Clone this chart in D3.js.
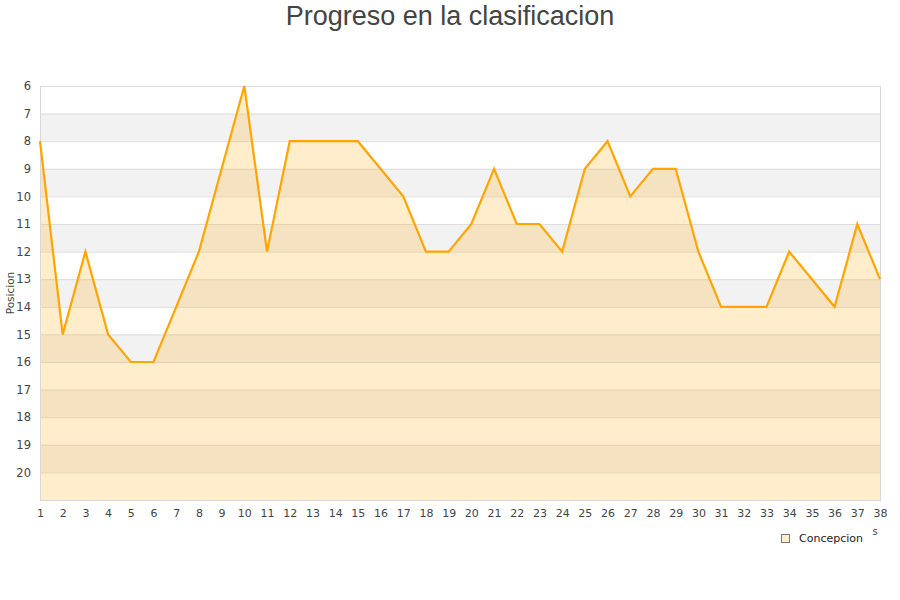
<!DOCTYPE html>
<html><head><meta charset="utf-8">
<script src="https://cdn.jsdelivr.net/npm/d3@7"></script>
<style>body{margin:0;background:#fff}svg{display:block}</style>
</head><body>
<svg id="c" width="900" height="600"></svg>
<script>
const jornadas = d3.range(1, 39);
const posiciones = [8,15,12,15,16,16,14,12,9,6,12,8,8,8,8,9,10,12,12,11,9,11,11,12,9,8,10,9,9,12,14,14,14,12,13,14,11,13];
const yTicks = [6,7,8,9,10,11,12,13,14,15,16,17,18,19,20];
const seriesName = "Concepcion";
const titleText = "Progreso en la clasificacion";
const yLabel = "Posicion";

const svg = d3.select("#c");
const L = 40, R = 880, T = 86, B = 500;
const x = d3.scaleLinear().domain([1, 38]).range([L, R]);
const y = d3.scaleLinear().domain([6, 21]).range([T, B]);

// bands
const bands = d3.range(6, 21);
svg.append("g").selectAll("rect").data(bands).join("rect")
  .attr("x", L).attr("width", R - L)
  .attr("y", d => y(d)).attr("height", d => y(d + 1) - y(d))
  .attr("fill", d => (d % 2 === 1 ? "#f2f2f2" : "#ffffff"));

// grid lines
svg.append("g").selectAll("line").data(yTicks).join("line")
  .attr("x1", L).attr("x2", R)
  .attr("y1", d => y(d) + 0.5).attr("y2", d => y(d) + 0.5)
  .attr("stroke", "#dddddd").attr("stroke-width", 1);

const data = jornadas.map((j, i) => ({ j, p: posiciones[i] }));

// area
svg.append("path").datum(data)
  .attr("d", d3.area().x(d => x(d.j)).y0(y(21)).y1(d => y(d.p)))
  .attr("fill", "rgba(255,165,0,0.2)");

// border
svg.append("line").attr("x1", L + 0.5).attr("x2", L + 0.5).attr("y1", T).attr("y2", B).attr("stroke", "#d8d8d8");
svg.append("line").attr("x1", R + 0.5).attr("x2", R + 0.5).attr("y1", T).attr("y2", B).attr("stroke", "#d8d8d8");
svg.append("line").attr("x1", L).attr("x2", R + 1).attr("y1", B + 0.5).attr("y2", B + 0.5).attr("stroke", "#d8d8d8");

// line
svg.append("path").datum(data)
  .attr("d", d3.line().x(d => x(d.j)).y(d => y(d.p)))
  .attr("fill", "none").attr("stroke", "#ffa500").attr("stroke-width", 2.2)
  .attr("stroke-linejoin", "miter");

// y axis labels
const yAxis = d3.axisLeft(y).tickValues(yTicks).tickSize(0).tickPadding(9);
const gy = svg.append("g").attr("transform", `translate(${L},0)`).call(yAxis);
gy.select(".domain").remove();
gy.selectAll("text").attr("font-family", "DejaVu Sans, sans-serif").attr("font-size", 11.5).attr("fill", "#444");

// x axis labels
const xAxis = d3.axisBottom(x).tickValues(jornadas).tickSize(0).tickPadding(9);
const gx = svg.append("g").attr("transform", `translate(0,${B})`).call(xAxis);
gx.select(".domain").remove();
gx.selectAll("text").attr("font-family", "DejaVu Sans, sans-serif").attr("font-size", 11).attr("fill", "#444");

// y label
svg.append("text").attr("transform", "translate(14,293) rotate(-90)")
  .attr("text-anchor", "middle").attr("font-family", "DejaVu Sans, sans-serif")
  .attr("font-size", 10.5).attr("fill", "#444").text(yLabel);

// clipped x label remnant
svg.append("text").attr("x", 875).attr("y", 535).attr("text-anchor", "middle")
  .attr("font-family", "DejaVu Sans, sans-serif").attr("font-size", 10).attr("fill", "#444").text("s");

// title
svg.append("text").attr("x", 450).attr("y", 25).attr("text-anchor", "middle")
  .attr("font-family", "Liberation Sans, Arial, sans-serif").attr("font-size", 27)
  .attr("fill", "#444").text(titleText);

// legend
svg.append("rect").attr("x", 781.5).attr("y", 534.5).attr("width", 8).attr("height", 8)
  .attr("fill", "#ffedcc").attr("stroke", "#777");
svg.append("text").attr("x", 799).attr("y", 542).attr("font-family", "DejaVu Sans, sans-serif")
  .attr("font-size", 11).attr("fill", "#222").text(seriesName);
</script>
</body></html>
